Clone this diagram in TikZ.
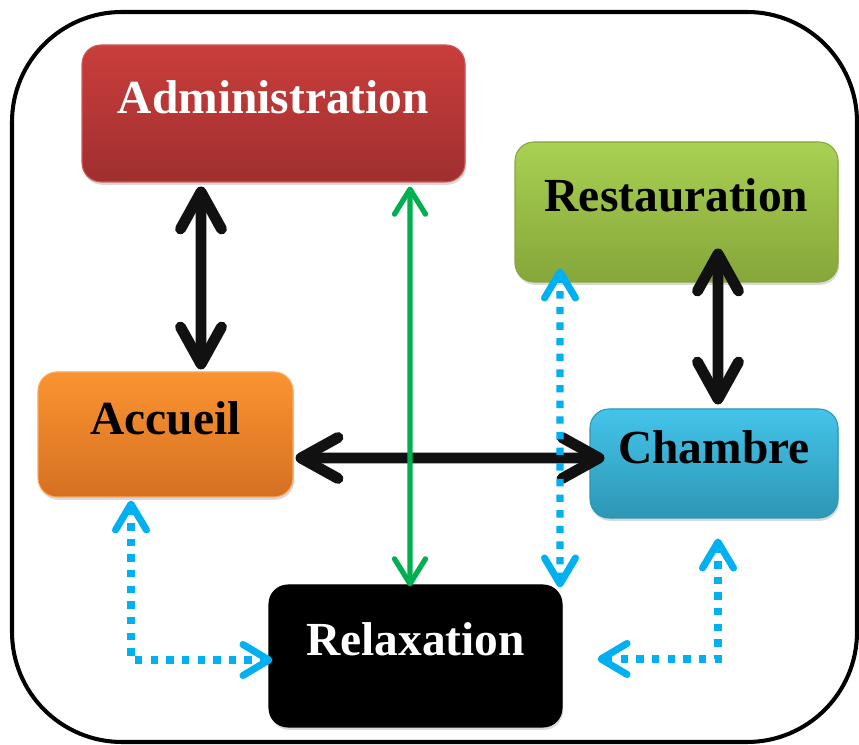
\documentclass[tikz,border=0pt]{standalone}
\usepackage{fontspec}
\setmainfont{Liberation Serif}
\usetikzlibrary{
  arrows.meta,
  shadows
}
\definecolor{htred}{HTML}{C93E3C}
\definecolor{htreddark}{HTML}{A02F2F}
\definecolor{htgreen}{HTML}{A8D152}
\definecolor{htgreendark}{HTML}{86A63A}
\definecolor{htorange}{HTML}{FA9431}
\definecolor{htorangedark}{HTML}{D57022}
\definecolor{htblue}{HTML}{44C4EA}
\definecolor{htbluedark}{HTML}{2D96B5}
\definecolor{htarrow}{HTML}{111111}
\definecolor{htlink}{HTML}{00B050}
\definecolor{htdots}{HTML}{00B0F0}

\begin{document}
\begin{tikzpicture}[
  box/.style={rounded corners=0.38cm, line width=0.6pt,
    font=\fontsize{27}{32}\selectfont\bfseries,
    text height=0.45cm, text depth=0.45cm,
    drop shadow={opacity=0.3, shadow xshift=0.6pt, shadow yshift=-1.6pt}},
  frame/.style={draw=black, line width=2.3pt, rounded corners=2.2cm},
  bigarrow/.style={{Straight Barb[round, length=0.74cm, width=0.82cm]}-{Straight Barb[round, length=0.74cm, width=0.82cm]},
    line width=6.2pt, draw=htarrow},
  greenarrow/.style={{Straight Barb[round, length=0.5cm, width=0.62cm]}-{Straight Barb[round, length=0.5cm, width=0.62cm]},
    line width=3pt, draw=htlink},
  dotarrow/.style={{Straight Barb[round, length=0.52cm, width=0.62cm]}-{Straight Barb[round, length=0.52cm, width=0.62cm]},
    line width=4pt, draw=htdots, dash pattern=on 4.2pt off 4.7pt}
]

  \useasboundingbox (0,0) rectangle (17.18,14.9);
  \draw[frame] (0.24,0.06) rectangle (17.14,14.66);

  \node[box, top color=htred, bottom color=htreddark, draw=htred!85!white, text=white,
    minimum width=7.66cm, minimum height=2.74cm] (admin) at (5.47,12.63) {Administration};

  \node[box, top color=htgreen, bottom color=htgreendark, draw=htgreendark,
    minimum width=6.46cm, minimum height=2.8cm] (resto) at (13.53,10.66) {Restauration};

  \node[box, top color=htorange, bottom color=htorangedark, draw=htorange!80!white,
    minimum width=5.1cm, minimum height=2.5cm] (accueil) at (3.31,6.21) {Accueil};

  \node[box, top color=htblue, bottom color=htbluedark, draw=htbluedark,
    minimum width=4.96cm, minimum height=2.18cm] (chambre) at (14.28,5.63) {Chambre};

  \node[box, fill=black, draw=black, text=white,
    minimum width=5.86cm, minimum height=2.84cm] (relax) at (8.31,1.78) {Relaxation};

  % liaisons principales
  \draw[bigarrow] ([xshift=-1.45cm, yshift=-0.08cm]admin.south) -- ([xshift=0.71cm, yshift=0.04cm]accueil.north);
  \draw[bigarrow] ([xshift=0.83cm, yshift=0.68cm]resto.south) -- ([xshift=0.08cm, yshift=0.08cm]chambre.north);
  \draw[bigarrow] ([xshift=0.04cm, yshift=-0.47cm]accueil.east) -- ([xshift=0.3cm, yshift=0.11cm]chambre.west);
  \draw[greenarrow] ([xshift=2.73cm, yshift=-0.08cm]admin.south) -- ([xshift=-0.11cm, yshift=-0.04cm]relax.north);

  % liaisons secondaires
  \draw[dotarrow] ([xshift=-2.33cm, yshift=0.28cm]resto.south) -- ([xshift=2.89cm, yshift=-0.06cm]relax.north);
  \draw[dotarrow] ([xshift=-0.69cm, yshift=-0.06cm]accueil.south) |- ([xshift=0.08cm, yshift=-0.08cm]relax.west);
  \draw[dotarrow] ([xshift=0.08cm, yshift=-0.4cm]chambre.south) |- ([xshift=0.7cm, yshift=-0.06cm]relax.east);

\end{tikzpicture}
\end{document}
